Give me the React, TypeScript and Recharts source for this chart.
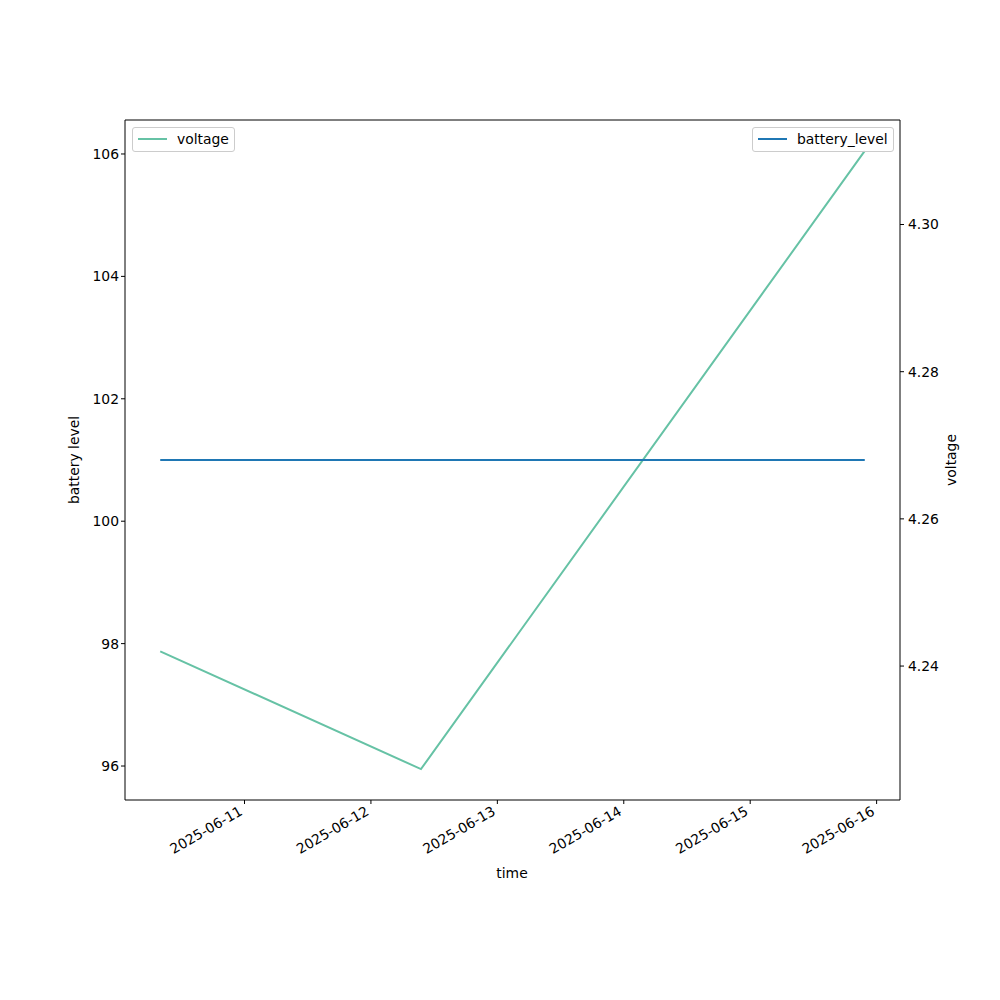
import { LineChart, Line, XAxis, YAxis, ReferenceLine } from "recharts";

// timestamps (UTC) of the readings
const times = [Date.UTC(2025, 5, 10, 8, 0), Date.UTC(2025, 5, 12, 9, 30), Date.UTC(2025, 5, 15, 21, 45)];
const voltage = [4.242, 4.226, 4.31];
const batteryLevel = [101, 101, 101];

const xTicks = [11, 12, 13, 14, 15, 16].map(d => Date.UTC(2025, 5, d));
const leftTicks = [96, 98, 100, 102, 104, 106];
const rightTicks = [4.24, 4.26, 4.28, 4.3];

const data = times.map((t, i) => ({ t, voltage: voltage[i], battery_level: batteryLevel[i] }));

const span = times[times.length - 1] - times[0];
const xDomain = [times[0] - span * 0.05, times[times.length - 1] + span * 0.05];

const FONT = "DejaVu Sans, sans-serif";
const FS = 13.9;
const GREEN = "#66c2a5";
const BLUE = "#1f77b4";

const fmtDate = (v: number) => new Date(v).toISOString().slice(0, 10);

const DateTick = (props: any) => {
  const { x, y, payload } = props;
  const ax = x - 1;
  const ay = y + 8;
  return (
    <text x={ax} y={ay} transform={`rotate(-30, ${ax}, ${ay})`} textAnchor="end" fill="#000" fontSize={FS} fontFamily={FONT}>
      {fmtDate(payload.value)}
    </text>
  );
};

const legendBox = (left: number, width: number, color: string, label: string) => (
  <div
    style={{
      position: "absolute", left, top: 127, width, height: 25, boxSizing: "border-box",
      border: "1px solid #cccccc", borderRadius: 3, background: "rgba(255,255,255,0.8)",
      fontFamily: FONT, fontSize: FS, color: "#000",
    }}
  >
    <div style={{ position: "absolute", left: 5, top: 10, width: 29, height: 2, background: color }} />
    <div style={{ position: "absolute", left: 44, top: 2, lineHeight: "18px" }}>{label}</div>
  </div>
);

export default function App() {
  return (
    <div style={{ position: "absolute", left: 0, top: 0, width: 1000, height: 1000, background: "#fff" }}>
      <LineChart width={1000} height={1000} data={data} margin={{ top: 120, right: 40, bottom: 140, left: 65 }}>
        <XAxis
          dataKey="t" type="number" domain={xDomain} ticks={xTicks} allowDataOverflow
          height={60} tickSize={4} tick={<DateTick />} axisLine={{ stroke: "#000" }} tickLine={{ stroke: "#000" }}
        />
        <YAxis
          yAxisId="left" orientation="left" width={60} domain={[95.445, 106.555]} ticks={leftTicks} allowDataOverflow
          tickSize={4} tick={{ fill: "#000", fontSize: FS, fontFamily: FONT }} axisLine={{ stroke: "#000" }} tickLine={{ stroke: "#000" }}
        />
        <YAxis
          yAxisId="right" orientation="right" width={60} domain={[4.2218, 4.3142]} ticks={rightTicks} allowDataOverflow
          tickFormatter={(v: number) => v.toFixed(2)}
          tickSize={4} tick={{ fill: "#000", fontSize: FS, fontFamily: FONT, dx: 2 }} axisLine={{ stroke: "#000" }} tickLine={{ stroke: "#000" }}
        />
        <ReferenceLine yAxisId="left" y={106.555} stroke="#000" />
        <Line yAxisId="right" dataKey="voltage" stroke={GREEN} strokeWidth={2} dot={false} isAnimationActive={false} type="linear" />
        <Line yAxisId="left" dataKey="battery_level" stroke={BLUE} strokeWidth={2} dot={false} isAnimationActive={false} type="linear" />
      </LineChart>
      <svg width={1000} height={1000} style={{ position: "absolute", left: 0, top: 0, pointerEvents: "none" }}>
        <text x={79} y={460} transform="rotate(-90, 79, 460)" textAnchor="middle" fontSize={FS} fontFamily={FONT} fill="#000">battery level</text>
        <text x={956} y={460} transform="rotate(-90, 956, 460)" textAnchor="middle" fontSize={FS} fontFamily={FONT} fill="#000">voltage</text>
        <text x={512} y={878} textAnchor="middle" fontSize={FS} fontFamily={FONT} fill="#000">time</text>
      </svg>
      {legendBox(132, 103, GREEN, "voltage")}
      {legendBox(752, 142, BLUE, "battery_level")}
    </div>
  );
}
